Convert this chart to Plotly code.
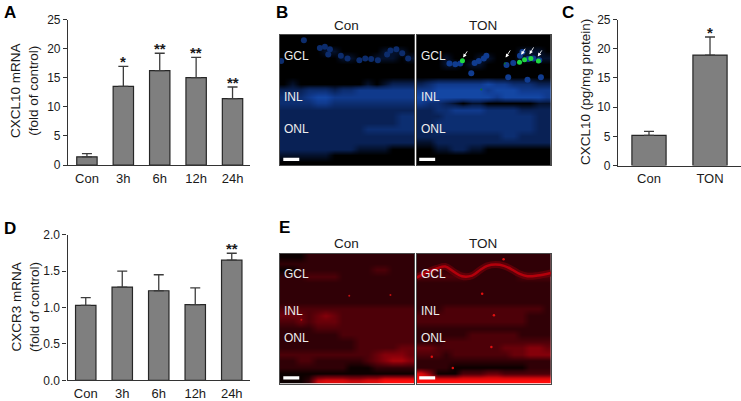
import plotly.graph_objects as go

WIDTH, HEIGHT = 741, 401
FONT = "Liberation Sans"
TEXT = "#1a1a1a"

# bar panels
A_CATS = ["Con", "3h", "6h", "12h", "24h"]
A_VALUES = [1.4, 13.5, 16.2, 15.0, 11.4]
A_ERRORS = [0.55, 3.45, 3.0, 3.5, 2.0]
A_STARS = ["", "*", "**", "**", "**"]

C_CATS = ["Con", "TON"]
C_VALUES = [5.15, 18.9]
C_ERRORS = [0.7, 3.1]
C_STARS = ["", "*"]

D_CATS = ["Con", "3h", "6h", "12h", "24h"]
D_VALUES = [1.03, 1.28, 1.23, 1.04, 1.65]
D_ERRORS = [0.105, 0.22, 0.22, 0.23, 0.095]
D_STARS = ["", "", "", "", "**"]

# micrographs, coarse brightness read by eye (0-9), one string per row
B_CON = [
    "0000000000000000",
    "0000000000000000",
    "0000011000001110",
    "0000000110011101",
    "0000000000000000",
    "0000000000000000",
    "0000000000000000",
    "0100000000101222",
    "2223332334444444",
    "3334554444444444",
    "3333443333333333",
    "2222222222222222",
    "2222222222222233",
    "2222222222222233",
    "2222222222333333",
    "2222222222222222",
    "2222222222222222",
    "2222222221111000",
    "1111110000000000",
    "0000000000000000",
]
B_TON = [
    "0000000000000000",
    "0000000000000000",
    "0000000000001110",
    "0001000110001111",
    "0001101100000000",
    "0000000000000000",
    "0000000000000000",
    "2344444454433322",
    "4455555545554444",
    "5555555554555554",
    "4332101100000011",
    "2233444433332222",
    "2223333333333322",
    "2233333333333322",
    "2233333333333322",
    "2222222222332222",
    "1122222222222222",
    "0011221100000000",
    "0000000000000000",
    "0000000000000000",
]
E_CON = [
    "0001111111111111",
    "1111111111111111",
    "0011111111122111",
    "1112222111111111",
    "1111111111111111",
    "1111111111111111",
    "1111111111111111",
    "1111111111111111",
    "2222222222222222",
    "3332343222222222",
    "2232333222222222",
    "1111222222222222",
    "1111111222222222",
    "1111111112222222",
    "1111111112222233",
    "2222222222234443",
    "1122111111234554",
    "1111111100011111",
    "0000000000000000",
    "0001677766779999",
]
E_TON = [
    "1111111111111111",
    "1111111111111111",
    "1111111111111111",
    "2222221111112222",
    "1111111111111111",
    "1111111111111111",
    "1111111111111111",
    "1111111111111111",
    "1112222222222221",
    "2222222222222111",
    "2222222222222111",
    "1111111111111111",
    "1111112222221111",
    "1112222222222222",
    "3322222222333443",
    "2221222222233444",
    "1111111111111111",
    "1111000000000111",
    "7400022233222222",
    "9999999999999999",
]

# nuclei of the ganglion cell layer, in grid cells
B_CON_CELLS_X = [2.9, 4.8, 5.4, 6.0, 5.8, 7.3, 8.1, 9.5, 10.2, 10.9, 11.7, 12.8, 13.2, 13.9, 14.6, 15.3, 0.2]
B_CON_CELLS_Y = [0.8, 2.0, 1.8, 2.2, 3.0, 3.2, 3.6, 3.9, 3.6, 3.7, 3.9, 3.0, 2.4, 2.2, 2.8, 3.6, 4.0]
B_TON_CELLS_X = [3.9, 4.6, 5.2, 6.9, 7.4, 8.0, 8.3, 12.3, 12.6, 13.3, 13.9, 14.6, 11.5, 10.7, 10.9, 6.5, 14.8, 13.2]
B_TON_CELLS_Y = [4.4, 4.5, 4.4, 4.3, 4.0, 3.6, 3.2, 3.2, 2.6, 3.7, 3.6, 3.9, 4.3, 4.6, 6.5, 5.9, 6.5, 6.9]

# bright fibre layer in the TON section
E_TON_ARC_X = [0.0, 1.2, 2.4, 3.4, 4.4, 5.4, 6.6, 7.6, 8.4, 9.4, 10.4, 11.4, 12.2, 13.2, 14.4, 16.0]
E_TON_ARC_Y = [3.7, 2.9, 2.3, 2.0, 2.8, 3.5, 3.4, 2.5, 1.9, 1.7, 1.9, 2.5, 3.1, 3.5, 3.4, 3.0]

# spots on the micrographs, in grid cells
GREEN_X = [5.45, 12.25, 12.85, 13.6, 14.5]
GREEN_Y = [3.97, 4.2, 3.8, 3.6, 4.0]
GREEN_FAINT_X = [7.7, 10.5]
GREEN_FAINT_Y = [8.4, 4.4]
RED_CON_X = [8.3, 13.2, 2.6]
RED_CON_Y = [6.5, 6.4, 10.2]
RED_TON_X = [10.35, 7.8, 9.2, 8.9, 1.8, 4.3]
RED_TON_Y = [0.9, 6.2, 9.5, 14.4, 15.9, 17.6]

ARROW_TIP_X = [5.53, 10.6, 12.45, 13.44, 14.43]
ARROW_TIP_Y = [3.46, 3.46, 3.05, 2.95, 3.3]
ARROW_TAIL_X = [6.13, 11.26, 13.04, 14.03, 15.02]
ARROW_TAIL_Y = [2.29, 2.14, 1.88, 1.68, 2.14]

LAYER_NAMES = ["GCL", "INL", "ONL"]


def xdom(left, right):
    return [left / WIDTH, right / WIDTH]


def ydom(top, bottom):
    return [1 - bottom / HEIGHT, 1 - top / HEIGHT]


def label(fig, x, y, text, size=13, color=TEXT, bold=False, angle=0, xanchor="center"):
    # x and y are page pixels
    fig.add_annotation(
        x=x / WIDTH, y=1 - y / HEIGHT, xref="paper", yref="paper",
        text=f"<b>{text}</b>" if bold else text,
        showarrow=False, xanchor=xanchor, yanchor="middle",
        textangle=angle, font=dict(family=FONT, size=size, color=color),
    )


def bar_panel(fig, n, cats, values, errors, stars, x_px, y_px, xrange, ymax, dtick, tickformat):
    xname, yname = f"x{n}", f"y{n}"
    fig.add_trace(go.Bar(
        x=list(range(len(cats))), y=values, xaxis=xname, yaxis=yname, width=0.56,
        marker=dict(color="#7f7f7f", line=dict(color="#262626", width=1.2)),
        error_y=dict(type="data", symmetric=False, array=errors, arrayminus=[0] * len(cats),
                     color="#3c3c3c", thickness=1.3, width=5),
        showlegend=False, hoverinfo="skip",
    ))
    for i, star in enumerate(stars):
        if star:
            fig.add_annotation(
                x=i, y=values[i] + errors[i], xref=xname, yref=yname, text=f"<b>{star}</b>",
                showarrow=False, yanchor="bottom", yshift=-6,
                font=dict(family=FONT, size=15, color=TEXT),
            )
    fig.layout[f"xaxis{n}"] = dict(
        domain=xdom(*x_px), anchor=yname, range=xrange, tickmode="array", automargin=False,
        tickvals=list(range(len(cats))), ticktext=cats, ticks="", showgrid=False, zeroline=False,
        showline=True, linecolor="#333333", linewidth=1.2, ticklabelstandoff=1,
        tickfont=dict(family=FONT, size=13, color=TEXT),
    )
    fig.layout[f"yaxis{n}"] = dict(
        domain=ydom(*y_px), anchor=xname, range=[0, ymax], dtick=dtick, tickformat=tickformat,
        ticks="outside", ticklen=4, tickwidth=1.2, tickcolor="#333333", showgrid=False, zeroline=False,
        showline=True, linecolor="#333333", linewidth=1.2, automargin=False,
        tickfont=dict(family=FONT, size=12, color=TEXT),
    )


def image_panel(fig, n, rows, colorscale, x_px, y_px, bar_from, layer_y):
    xname, yname = f"x{n}", f"y{n}"
    fig.add_trace(go.Heatmap(
        z=[[int(c) for c in row] for row in rows],
        x=[i + 0.5 for i in range(len(rows[0]))],
        y=[i + 0.5 for i in range(len(rows))],
        xaxis=xname, yaxis=yname, zmin=0, zmax=9, zsmooth="best",
        colorscale=colorscale, showscale=False, hoverinfo="skip",
    ))
    common = dict(showticklabels=False, ticks="", showgrid=False, zeroline=False, automargin=False,
                  showline=True, mirror=True, linecolor="#4a4a4a", linewidth=1)
    fig.layout[f"xaxis{n}"] = dict(domain=xdom(*x_px), anchor=yname, range=[0, 16], **common)
    fig.layout[f"yaxis{n}"] = dict(domain=ydom(*y_px), anchor=xname, range=[20, 0], **common)
    # scale bar
    fig.add_shape(type="rect", xref=xname, yref=yname, x0=bar_from, x1=bar_from + 1.9,
                  y0=18.9, y1=19.4, fillcolor="white", line=dict(width=0))
    for name, y in zip(LAYER_NAMES, layer_y):
        label(fig, x_px[0] + 2.5, y, name, size=12, color="#eeeeee", xanchor="left")


def spots(fig, n, xs, ys, color, size):
    fig.add_trace(go.Scatter(
        x=xs, y=ys, xaxis=f"x{n}", yaxis=f"y{n}", mode="markers",
        marker=dict(color=color, size=size, line=dict(width=0)),
        showlegend=False, hoverinfo="skip",
    ))


def arc(fig, color, width):
    fig.add_trace(go.Scatter(
        x=E_TON_ARC_X, y=E_TON_ARC_Y, xaxis="x7", yaxis="y7", mode="lines",
        line=dict(color=color, width=width, shape="spline"), showlegend=False, hoverinfo="skip",
    ))


BLUES = [[0, "#000000"], [0.2, "#081f50"], [0.5, "#12409a"], [1, "#2080f0"]]
REDS = [[0, "#0c0000"], [0.11, "#300006"], [0.22, "#4c0008"], [0.44, "#84000a"], [0.7, "#d0080a"], [1, "#ff0a0a"]]

fig = go.Figure()

bar_panel(fig, 1, A_CATS, A_VALUES, A_ERRORS, A_STARS, (68, 250), (19.5, 165), [-0.52, 4.48], 25, 5, "d")
bar_panel(fig, 2, C_CATS, C_VALUES, C_ERRORS, C_STARS, (618, 741), (19.5, 165.5), [-0.508, 1.508], 25, 5, "d")
bar_panel(fig, 3, D_CATS, D_VALUES, D_ERRORS, D_STARS, (67.5, 250), (234.7, 380.3), [-0.5, 4.5], 2, 0.5, ".1f")

image_panel(fig, 4, B_CON, BLUES, (279.5, 414), (35, 165), 0.45, (56, 96.7, 128.7))
image_panel(fig, 5, B_TON, BLUES, (416.7, 551), (35, 165), 0.3, (56, 96.7, 128.7))
image_panel(fig, 6, E_CON, REDS, (279.5, 414), (253.5, 383.5), 0.45, (274, 311, 338))
image_panel(fig, 7, E_TON, REDS, (416.7, 551), (253.5, 383.5), 0.3, (274, 311, 338))

spots(fig, 4, B_CON_CELLS_X, B_CON_CELLS_Y, "#0c2c6c", 6)
spots(fig, 5, B_TON_CELLS_X, B_TON_CELLS_Y, "#103c90", 6)
spots(fig, 5, GREEN_X, GREEN_Y, "#20d840", 5)
spots(fig, 5, GREEN_FAINT_X, GREEN_FAINT_Y, "#0f7030", 2)
spots(fig, 6, RED_CON_X, RED_CON_Y, "#c01010", 2)
spots(fig, 7, RED_TON_X, RED_TON_Y, "#e01010", 2.5)

arc(fig, "rgba(120,0,10,0.6)", 7)
arc(fig, "rgba(200,0,12,0.8)", 2.5)

for tip_x, tip_y, tail_x, tail_y in zip(ARROW_TIP_X, ARROW_TIP_Y, ARROW_TAIL_X, ARROW_TAIL_Y):
    fig.add_annotation(
        x=tip_x, y=tip_y, ax=tail_x, ay=tail_y, xref="x5", yref="y5", axref="x5", ayref="y5",
        text="", showarrow=True, arrowhead=2, arrowsize=0.8, arrowwidth=0.9, arrowcolor="white",
    )

# axis titles
label(fig, 25, 91, "CXCL10 mRNA<br>(fold of control)", size=13.5, angle=-90)
label(fig, 25, 307, "CXCR3 mRNA<br>(fold of control)", size=13.5, angle=-90)
label(fig, 585, 92, "CXCL10 (pg/mg protein)", size=13.5, angle=-90)

# image headers
label(fig, 346.7, 25.7, "Con", size=13.5)
label(fig, 483, 25.7, "TON", size=13.5)
label(fig, 346.7, 243, "Con", size=13.5)
label(fig, 483, 243, "TON", size=13.5)

# panel letters
label(fig, 9.5, 12.5, "A", size=17, bold=True, color="#000000")
label(fig, 282, 12, "B", size=17, bold=True, color="#000000")
label(fig, 568, 12, "C", size=17, bold=True, color="#000000")
label(fig, 9.5, 228, "D", size=17, bold=True, color="#000000")
label(fig, 284, 227, "E", size=17, bold=True, color="#000000")

fig.update_layout(
    width=WIDTH, height=HEIGHT, margin=dict(l=0, r=0, t=0, b=0),
    paper_bgcolor="white", plot_bgcolor="white", showlegend=False,
)

fig.write_html(
    "out.html",
    config={"displayModeBar": False},
    post_script="document.body.style.margin='0';document.body.style.overflow='hidden';",
)
